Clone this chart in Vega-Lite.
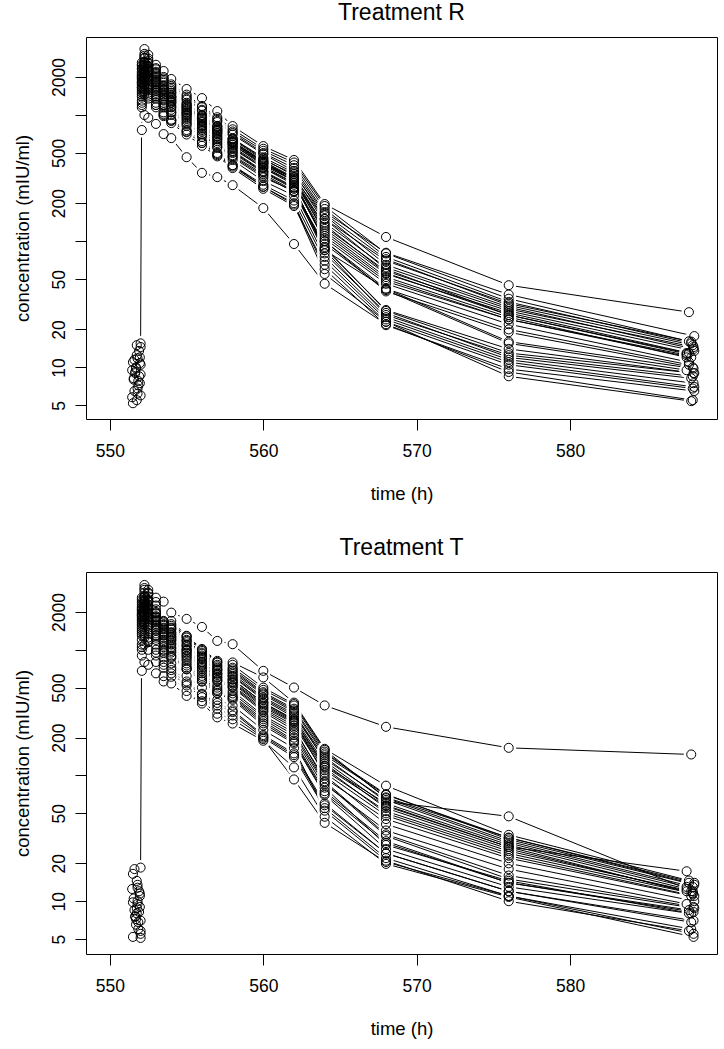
{
"$schema":"https://vega.github.io/schema/vega-lite/v6.json",
"background":"white",
"padding":{"left":12,"top":1,"right":2,"bottom":5},
"spacing":32,
"config":{
"font":"Liberation Sans",
"view":{"stroke":"black","strokeWidth":1},
"axis":{"domain":false,"grid":false,"tickColor":"black","tickSize":11,"tickWidth":1,"labelColor":"black","labelFontSize":17.5,"titleFontSize":18.5,"titleFontWeight":"normal","titleColor":"black","labelFont":"Liberation Sans","titleFont":"Liberation Sans","labelOverlap":false},
"axisX":{"labelPadding":12,"titlePadding":25,"labelFlush":false},
"axisY":{"labelAngle":-90,"labelAlign":"center","labelBaseline":"alphabetic","labelPadding":11,"titlePadding":18},
"title":{"fontSize":23,"fontWeight":"normal","color":"black","offset":12,"anchor":"middle","font":"Liberation Sans"}
},
"datasets":{
"R":[
{"s":1,"t":551.5,"c":5.2},{"s":1,"t":552.08,"c":760},{"s":1,"t":552.25,"c":1000},{"s":1,"t":552.5,"c":950},{"s":1,"t":553,"c":850},{"s":1,"t":553.5,"c":706},{"s":1,"t":554,"c":656},{"s":1,"t":555,"c":463},{"s":1,"t":556,"c":348},{"s":1,"t":557,"c":322},{"s":1,"t":558,"c":278},{"s":1,"t":560,"c":183},{"s":1,"t":562,"c":95},{"s":1,"t":564,"c":46},{"s":1,"t":568,"c":22},{"s":1,"t":576,"c":9.2},{"s":1,"t":588,"c":5.5},
{"s":2,"t":552,"c":15.5},{"s":2,"t":552.08,"c":2600},{"s":2,"t":552.25,"c":3330},{"s":2,"t":552.5,"c":3000},{"s":2,"t":553,"c":2500},{"s":2,"t":553.5,"c":2230},{"s":2,"t":554,"c":1928},{"s":2,"t":555,"c":1607},{"s":2,"t":556,"c":1362},{"s":2,"t":557,"c":1074},{"s":2,"t":558,"c":817},{"s":2,"t":560,"c":567},{"s":2,"t":562,"c":440},{"s":2,"t":564,"c":197},{"s":2,"t":568,"c":108},{"s":2,"t":576,"c":44.8},{"s":2,"t":587.75,"c":27.4},
{"s":3,"t":551.9,"c":8.5},{"s":3,"t":552.08,"c":2100},{"s":3,"t":552.25,"c":2600},{"s":3,"t":552.5,"c":2450},{"s":3,"t":553,"c":2100},{"s":3,"t":553.5,"c":1800},{"s":3,"t":554,"c":1600},{"s":3,"t":555,"c":1350},{"s":3,"t":556,"c":1100},{"s":3,"t":557,"c":900},{"s":3,"t":558,"c":720},{"s":3,"t":560,"c":500},{"s":3,"t":562,"c":380},{"s":3,"t":564,"c":170},{"s":3,"t":568,"c":81},{"s":3,"t":576,"c":37.8},{"s":3,"t":588.1,"c":17.7},
{"s":4,"t":552,"c":10.5},{"s":4,"t":552.08,"c":1800},{"s":4,"t":552.25,"c":2200},{"s":4,"t":552.5,"c":2000},{"s":4,"t":553,"c":1750},{"s":4,"t":553.5,"c":1500},{"s":4,"t":554,"c":1300},{"s":4,"t":555,"c":1050},{"s":4,"t":556,"c":880},{"s":4,"t":557,"c":720},{"s":4,"t":558,"c":580},{"s":4,"t":560,"c":410},{"s":4,"t":562,"c":320},{"s":4,"t":564,"c":150},{"s":4,"t":568,"c":70},{"s":4,"t":576,"c":32},{"s":4,"t":587.9,"c":16},
{"s":5,"t":551.8,"c":6.8},{"s":5,"t":552.08,"c":1500},{"s":5,"t":552.25,"c":1850},{"s":5,"t":552.5,"c":1700},{"s":5,"t":553,"c":1450},{"s":5,"t":553.5,"c":1200},{"s":5,"t":554,"c":1050},{"s":5,"t":555,"c":850},{"s":5,"t":556,"c":700},{"s":5,"t":557,"c":560},{"s":5,"t":558,"c":460},{"s":5,"t":560,"c":320},{"s":5,"t":562,"c":250},{"s":5,"t":564,"c":95},{"s":5,"t":568,"c":41},{"s":5,"t":576,"c":15.5},{"s":5,"t":587.6,"c":9.5},
{"s":6,"t":551.6,"c":11.5},{"s":6,"t":552.08,"c":2300},{"s":6,"t":552.25,"c":2800},{"s":6,"t":552.5,"c":2550},{"s":6,"t":553,"c":2150},{"s":6,"t":553.5,"c":1850},{"s":6,"t":554,"c":1550},{"s":6,"t":555,"c":1250},{"s":6,"t":556,"c":1000},{"s":6,"t":557,"c":820},{"s":6,"t":558,"c":650},{"s":6,"t":560,"c":450},{"s":6,"t":562,"c":330},{"s":6,"t":564,"c":140},{"s":6,"t":568,"c":62},{"s":6,"t":576,"c":29},{"s":6,"t":588.05,"c":14.5},
{"s":7,"t":551.95,"c":7.5},{"s":7,"t":552.08,"c":1650},{"s":7,"t":552.25,"c":2000},{"s":7,"t":552.5,"c":1900},{"s":7,"t":553,"c":1600},{"s":7,"t":553.5,"c":1350},{"s":7,"t":554,"c":1200},{"s":7,"t":555,"c":980},{"s":7,"t":556,"c":800},{"s":7,"t":557,"c":650},{"s":7,"t":558,"c":520},{"s":7,"t":560,"c":360},{"s":7,"t":562,"c":270},{"s":7,"t":564,"c":85},{"s":7,"t":568,"c":26},{"s":7,"t":576,"c":12.5},{"s":7,"t":588,"c":8.5},
{"s":8,"t":551.7,"c":9.8},{"s":8,"t":552.08,"c":2000},{"s":8,"t":552.25,"c":2450},{"s":8,"t":552.5,"c":2250},{"s":8,"t":553,"c":1900},{"s":8,"t":553.5,"c":1600},{"s":8,"t":554,"c":1400},{"s":8,"t":555,"c":1150},{"s":8,"t":556,"c":940},{"s":8,"t":557,"c":760},{"s":8,"t":558,"c":610},{"s":8,"t":560,"c":430},{"s":8,"t":562,"c":310},{"s":8,"t":564,"c":125},{"s":8,"t":568,"c":55},{"s":8,"t":576,"c":27},{"s":8,"t":587.75,"c":13},
{"s":9,"t":551.45,"c":5.8},{"s":9,"t":552.08,"c":1300},{"s":9,"t":552.25,"c":1600},{"s":9,"t":552.5,"c":1500},{"s":9,"t":553,"c":1250},{"s":9,"t":553.5,"c":1050},{"s":9,"t":554,"c":920},{"s":9,"t":555,"c":760},{"s":9,"t":556,"c":620},{"s":9,"t":557,"c":500},{"s":9,"t":558,"c":400},{"s":9,"t":560,"c":280},{"s":9,"t":562,"c":210},{"s":9,"t":564,"c":70},{"s":9,"t":568,"c":24},{"s":9,"t":576,"c":11},{"s":9,"t":588.1,"c":7},
{"s":10,"t":551.75,"c":12.5},{"s":10,"t":552.08,"c":2450},{"s":10,"t":552.25,"c":2950},{"s":10,"t":552.5,"c":2700},{"s":10,"t":553,"c":2300},{"s":10,"t":553.5,"c":1950},{"s":10,"t":554,"c":1700},{"s":10,"t":555,"c":1400},{"s":10,"t":556,"c":1150},{"s":10,"t":557,"c":930},{"s":10,"t":558,"c":740},{"s":10,"t":560,"c":520},{"s":10,"t":562,"c":400},{"s":10,"t":564,"c":180},{"s":10,"t":568,"c":75},{"s":10,"t":576,"c":33},{"s":10,"t":587.9,"c":15.5},
{"s":11,"t":551.55,"c":8},{"s":11,"t":552.08,"c":1750},{"s":11,"t":552.25,"c":2150},{"s":11,"t":552.5,"c":1950},{"s":11,"t":553,"c":1650},{"s":11,"t":553.5,"c":1400},{"s":11,"t":554,"c":1250},{"s":11,"t":555,"c":1000},{"s":11,"t":556,"c":820},{"s":11,"t":557,"c":670},{"s":11,"t":558,"c":540},{"s":11,"t":560,"c":380},{"s":11,"t":562,"c":290},{"s":11,"t":564,"c":110},{"s":11,"t":568,"c":48},{"s":11,"t":576,"c":24},{"s":11,"t":587.6,"c":12.5},
{"s":12,"t":552,"c":14.5},{"s":12,"t":552.08,"c":2200},{"s":12,"t":552.25,"c":2650},{"s":12,"t":552.5,"c":2400},{"s":12,"t":553,"c":2050},{"s":12,"t":553.5,"c":1700},{"s":12,"t":554,"c":1500},{"s":12,"t":555,"c":1200},{"s":12,"t":556,"c":980},{"s":12,"t":557,"c":800},{"s":12,"t":558,"c":640},{"s":12,"t":560,"c":440},{"s":12,"t":562,"c":340},{"s":12,"t":564,"c":160},{"s":12,"t":568,"c":65},{"s":12,"t":576,"c":30},{"s":12,"t":588.05,"c":14},
{"s":13,"t":551.8,"c":6.2},{"s":13,"t":552.08,"c":1150},{"s":13,"t":552.25,"c":1450},{"s":13,"t":552.5,"c":1350},{"s":13,"t":553,"c":1150},{"s":13,"t":553.5,"c":980},{"s":13,"t":554,"c":863},{"s":13,"t":555,"c":700},{"s":13,"t":556,"c":570},{"s":13,"t":557,"c":470},{"s":13,"t":558,"c":380},{"s":13,"t":560,"c":260},{"s":13,"t":562,"c":190},{"s":13,"t":564,"c":65},{"s":13,"t":568,"c":23},{"s":13,"t":576,"c":10.5},{"s":13,"t":588,"c":6.8},
{"s":14,"t":551.65,"c":9.2},{"s":14,"t":552.08,"c":1900},{"s":14,"t":552.25,"c":2300},{"s":14,"t":552.5,"c":2150},{"s":14,"t":553,"c":1800},{"s":14,"t":553.5,"c":1550},{"s":14,"t":554,"c":1350},{"s":14,"t":555,"c":1100},{"s":14,"t":556,"c":900},{"s":14,"t":557,"c":740},{"s":14,"t":558,"c":600},{"s":14,"t":560,"c":410},{"s":14,"t":562,"c":300},{"s":14,"t":564,"c":100},{"s":14,"t":568,"c":42},{"s":14,"t":576,"c":20},{"s":14,"t":587.75,"c":10.5},
{"s":15,"t":551.95,"c":10.8},{"s":15,"t":552.08,"c":2050},{"s":15,"t":552.25,"c":2500},{"s":15,"t":552.5,"c":2300},{"s":15,"t":553,"c":1950},{"s":15,"t":553.5,"c":1650},{"s":15,"t":554,"c":1450},{"s":15,"t":555,"c":1180},{"s":15,"t":556,"c":960},{"s":15,"t":557,"c":780},{"s":15,"t":558,"c":620},{"s":15,"t":560,"c":430},{"s":15,"t":562,"c":320},{"s":15,"t":564,"c":130},{"s":15,"t":568,"c":58},{"s":15,"t":576,"c":28},{"s":15,"t":588.1,"c":13.5},
{"s":16,"t":551.85,"c":7.2},{"s":16,"t":552.08,"c":1600},{"s":16,"t":552.25,"c":1950},{"s":16,"t":552.5,"c":1800},{"s":16,"t":553,"c":1550},{"s":16,"t":553.5,"c":1300},{"s":16,"t":554,"c":1150},{"s":16,"t":555,"c":930},{"s":16,"t":556,"c":760},{"s":16,"t":557,"c":620},{"s":16,"t":558,"c":500},{"s":16,"t":560,"c":350},{"s":16,"t":562,"c":260},{"s":16,"t":564,"c":80},{"s":16,"t":568,"c":27},{"s":16,"t":576,"c":12},{"s":16,"t":587.9,"c":8.2},
{"s":17,"t":551.5,"c":11},{"s":17,"t":552.08,"c":1850},{"s":17,"t":552.25,"c":2250},{"s":17,"t":552.5,"c":2050},{"s":17,"t":553,"c":1750},{"s":17,"t":553.5,"c":1500},{"s":17,"t":554,"c":1320},{"s":17,"t":555,"c":1080},{"s":17,"t":556,"c":880},{"s":17,"t":557,"c":720},{"s":17,"t":558,"c":580},{"s":17,"t":560,"c":400},{"s":17,"t":562,"c":300},{"s":17,"t":564,"c":120},{"s":17,"t":568,"c":52},{"s":17,"t":576,"c":25},{"s":17,"t":587.6,"c":12},
{"s":18,"t":551.75,"c":5.5},{"s":18,"t":552.08,"c":1400},{"s":18,"t":552.25,"c":1700},{"s":18,"t":552.5,"c":1600},{"s":18,"t":553,"c":1350},{"s":18,"t":553.5,"c":1150},{"s":18,"t":554,"c":1000},{"s":18,"t":555,"c":820},{"s":18,"t":556,"c":670},{"s":18,"t":557,"c":550},{"s":18,"t":558,"c":440},{"s":18,"t":560,"c":300},{"s":18,"t":562,"c":230},{"s":18,"t":564,"c":75},{"s":18,"t":568,"c":25},{"s":18,"t":576,"c":11.5},{"s":18,"t":588.05,"c":7.5},
{"s":19,"t":551.9,"c":13.5},{"s":19,"t":552.08,"c":2350},{"s":19,"t":552.25,"c":2850},{"s":19,"t":552.5,"c":2600},{"s":19,"t":553,"c":2200},{"s":19,"t":553.5,"c":1900},{"s":19,"t":554,"c":1650},{"s":19,"t":555,"c":1320},{"s":19,"t":556,"c":1080},{"s":19,"t":557,"c":880},{"s":19,"t":558,"c":700},{"s":19,"t":560,"c":490},{"s":19,"t":562,"c":360},{"s":19,"t":564,"c":165},{"s":19,"t":568,"c":72},{"s":19,"t":576,"c":31},{"s":19,"t":588,"c":15},
{"s":20,"t":552,"c":8.8},{"s":20,"t":552.08,"c":1700},{"s":20,"t":552.25,"c":2050},{"s":20,"t":552.5,"c":1900},{"s":20,"t":553,"c":1650},{"s":20,"t":553.5,"c":1420},{"s":20,"t":554,"c":1250},{"s":20,"t":555,"c":1020},{"s":20,"t":556,"c":830},{"s":20,"t":557,"c":680},{"s":20,"t":558,"c":550},{"s":20,"t":560,"c":380},{"s":20,"t":562,"c":280},{"s":20,"t":564,"c":105},{"s":20,"t":568,"c":46},{"s":20,"t":576,"c":22},{"s":20,"t":587.75,"c":11},
{"s":21,"t":551.6,"c":6.5},{"s":21,"t":552.08,"c":1250},{"s":21,"t":552.25,"c":1500},{"s":21,"t":552.5,"c":1400},{"s":21,"t":553,"c":1200},{"s":21,"t":553.5,"c":1000},{"s":21,"t":554,"c":900},{"s":21,"t":555,"c":730},{"s":21,"t":556,"c":600},{"s":21,"t":557,"c":480},{"s":21,"t":558,"c":390},{"s":21,"t":560,"c":270},{"s":21,"t":562,"c":200},{"s":21,"t":564,"c":60},{"s":21,"t":568,"c":21.6},{"s":21,"t":576,"c":9.7},{"s":21,"t":588.1,"c":6.5},
{"s":22,"t":551.7,"c":10},{"s":22,"t":552.08,"c":1950},{"s":22,"t":552.25,"c":2400},{"s":22,"t":552.5,"c":2200},{"s":22,"t":553,"c":1850},{"s":22,"t":553.5,"c":1580},{"s":22,"t":554,"c":1380},{"s":22,"t":555,"c":1120},{"s":22,"t":556,"c":920},{"s":22,"t":557,"c":750},{"s":22,"t":558,"c":600},{"s":22,"t":560,"c":420},{"s":22,"t":562,"c":310},{"s":22,"t":564,"c":115},{"s":22,"t":568,"c":50},{"s":22,"t":576,"c":24},{"s":22,"t":587.9,"c":12},
{"s":23,"t":551.95,"c":12},{"s":23,"t":552.08,"c":2150},{"s":23,"t":552.25,"c":2600},{"s":23,"t":552.5,"c":2400},{"s":23,"t":553,"c":2000},{"s":23,"t":553.5,"c":1720},{"s":23,"t":554,"c":1500},{"s":23,"t":555,"c":1220},{"s":23,"t":556,"c":1000},{"s":23,"t":557,"c":810},{"s":23,"t":558,"c":650},{"s":23,"t":560,"c":460},{"s":23,"t":562,"c":350},{"s":23,"t":564,"c":150},{"s":23,"t":568,"c":60},{"s":23,"t":576,"c":26},{"s":23,"t":587.6,"c":13},
{"s":24,"t":551.85,"c":7.8},{"s":24,"t":552.08,"c":1550},{"s":24,"t":552.25,"c":1900},{"s":24,"t":552.5,"c":1750},{"s":24,"t":553,"c":1500},{"s":24,"t":553.5,"c":1250},{"s":24,"t":554,"c":1100},{"s":24,"t":555,"c":900},{"s":24,"t":556,"c":740},{"s":24,"t":557,"c":600},{"s":24,"t":558,"c":480},{"s":24,"t":560,"c":340},{"s":24,"t":562,"c":250},{"s":24,"t":564,"c":90},{"s":24,"t":568,"c":28},{"s":24,"t":576,"c":13},{"s":24,"t":588.05,"c":9},
{"s":25,"t":551.45,"c":9.5},{"s":25,"t":552.08,"c":1800},{"s":25,"t":552.25,"c":2150},{"s":25,"t":552.5,"c":2000},{"s":25,"t":553,"c":1700},{"s":25,"t":553.5,"c":1450},{"s":25,"t":554,"c":1280},{"s":25,"t":555,"c":1040},{"s":25,"t":556,"c":850},{"s":25,"t":557,"c":700},{"s":25,"t":558,"c":560},{"s":25,"t":560,"c":390},{"s":25,"t":562,"c":290},{"s":25,"t":564,"c":100},{"s":25,"t":568,"c":40},{"s":25,"t":576,"c":19},{"s":25,"t":588,"c":10},
{"s":26,"t":551.75,"c":15},{"s":26,"t":552.08,"c":2500},{"s":26,"t":552.25,"c":3050},{"s":26,"t":552.5,"c":2800},{"s":26,"t":553,"c":2350},{"s":26,"t":553.5,"c":2000},{"s":26,"t":554,"c":1750},{"s":26,"t":555,"c":1450},{"s":26,"t":556,"c":1180},{"s":26,"t":557,"c":960},{"s":26,"t":558,"c":770},{"s":26,"t":560,"c":540},{"s":26,"t":562,"c":420},{"s":26,"t":564,"c":190},{"s":26,"t":568,"c":80},{"s":26,"t":576,"c":35},{"s":26,"t":587.75,"c":16.1},
{"s":27,"t":551.55,"c":8.2},{"s":27,"t":552.08,"c":1650},{"s":27,"t":552.25,"c":2000},{"s":27,"t":552.5,"c":1850},{"s":27,"t":553,"c":1550},{"s":27,"t":553.5,"c":1320},{"s":27,"t":554,"c":1160},{"s":27,"t":555,"c":950},{"s":27,"t":556,"c":780},{"s":27,"t":557,"c":640},{"s":27,"t":558,"c":510},{"s":27,"t":560,"c":355},{"s":27,"t":562,"c":265},{"s":27,"t":564,"c":88},{"s":27,"t":568,"c":28.5},{"s":27,"t":576,"c":14},{"s":27,"t":588.1,"c":9},
{"s":28,"t":552,"c":6},{"s":28,"t":552.08,"c":1200},{"s":28,"t":552.25,"c":1550},{"s":28,"t":552.5,"c":1450},{"s":28,"t":553,"c":1200},{"s":28,"t":553.5,"c":1020},{"s":28,"t":554,"c":900},{"s":28,"t":555,"c":740},{"s":28,"t":556,"c":600},{"s":28,"t":557,"c":490},{"s":28,"t":558,"c":400},{"s":28,"t":560,"c":270},{"s":28,"t":562,"c":195},{"s":28,"t":564,"c":55},{"s":28,"t":568,"c":23},{"s":28,"t":576,"c":8.5},{"s":28,"t":587.9,"c":5.4},
{"s":29,"t":551.8,"c":11.8},{"s":29,"t":552.08,"c":2000},{"s":29,"t":552.25,"c":2350},{"s":29,"t":552.5,"c":2200},{"s":29,"t":553,"c":1850},{"s":29,"t":553.5,"c":1600},{"s":29,"t":554,"c":1400},{"s":29,"t":555,"c":1150},{"s":29,"t":556,"c":940},{"s":29,"t":557,"c":770},{"s":29,"t":558,"c":620},{"s":29,"t":560,"c":420},{"s":29,"t":562,"c":300},{"s":29,"t":564,"c":135},{"s":29,"t":568,"c":56},{"s":29,"t":576,"c":26},{"s":29,"t":587.6,"c":12.8},
{"s":30,"t":551.65,"c":9},{"s":30,"t":552.08,"c":1450},{"s":30,"t":552.25,"c":1750},{"s":30,"t":552.5,"c":1650},{"s":30,"t":553,"c":1400},{"s":30,"t":553.5,"c":1200},{"s":30,"t":554,"c":1050},{"s":30,"t":555,"c":870},{"s":30,"t":556,"c":710},{"s":30,"t":557,"c":580},{"s":30,"t":558,"c":470},{"s":30,"t":560,"c":330},{"s":30,"t":562,"c":245},{"s":30,"t":564,"c":85},{"s":30,"t":568,"c":42},{"s":30,"t":576,"c":16},{"s":30,"t":588.05,"c":9.8}
],
"T":[
{"s":1,"t":551.6,"c":8.5},{"s":1,"t":552.08,"c":2400},{"s":1,"t":552.25,"c":3000},{"s":1,"t":552.5,"c":2800},{"s":1,"t":553,"c":2600},{"s":1,"t":553.5,"c":2417},{"s":1,"t":554,"c":1976},{"s":1,"t":555,"c":1762},{"s":1,"t":556,"c":1521},{"s":1,"t":557,"c":1177},{"s":1,"t":558,"c":1109},{"s":1,"t":560,"c":680},{"s":1,"t":562,"c":501},{"s":1,"t":564,"c":361},{"s":1,"t":568,"c":244},{"s":1,"t":576,"c":166},{"s":1,"t":587.9,"c":147},
{"s":2,"t":552,"c":18.5},{"s":2,"t":552.08,"c":2600},{"s":2,"t":552.25,"c":3280},{"s":2,"t":552.5,"c":3000},{"s":2,"t":553,"c":2400},{"s":2,"t":553.5,"c":1698},{"s":2,"t":554,"c":1698},{"s":2,"t":555,"c":1293},{"s":2,"t":556,"c":1016},{"s":2,"t":557,"c":817},{"s":2,"t":558,"c":793},{"s":2,"t":560,"c":603},{"s":2,"t":562,"c":380},{"s":2,"t":564,"c":163},{"s":2,"t":568,"c":83},{"s":2,"t":576,"c":33.7},{"s":2,"t":587.75,"c":14.6},
{"s":3,"t":551.9,"c":12},{"s":3,"t":552.08,"c":2200},{"s":3,"t":552.25,"c":2700},{"s":3,"t":552.5,"c":2500},{"s":3,"t":553,"c":2000},{"s":3,"t":553.5,"c":1600},{"s":3,"t":554,"c":1500},{"s":3,"t":555,"c":1200},{"s":3,"t":556,"c":950},{"s":3,"t":557,"c":760},{"s":3,"t":558,"c":700},{"s":3,"t":560,"c":460},{"s":3,"t":562,"c":340},{"s":3,"t":564,"c":150},{"s":3,"t":568,"c":71},{"s":3,"t":576,"c":31},{"s":3,"t":588.1,"c":13.5},
{"s":4,"t":552,"c":7},{"s":4,"t":552.08,"c":1600},{"s":4,"t":552.25,"c":1950},{"s":4,"t":552.5,"c":1800},{"s":4,"t":553,"c":1450},{"s":4,"t":553.5,"c":1150},{"s":4,"t":554,"c":1050},{"s":4,"t":555,"c":850},{"s":4,"t":556,"c":680},{"s":4,"t":557,"c":560},{"s":4,"t":558,"c":500},{"s":4,"t":560,"c":320},{"s":4,"t":562,"c":230},{"s":4,"t":564,"c":95},{"s":4,"t":568,"c":45},{"s":4,"t":576,"c":22},{"s":4,"t":587.9,"c":11},
{"s":5,"t":551.8,"c":9.5},{"s":5,"t":552.08,"c":1900},{"s":5,"t":552.25,"c":2350},{"s":5,"t":552.5,"c":2150},{"s":5,"t":553,"c":1750},{"s":5,"t":553.5,"c":1400},{"s":5,"t":554,"c":1280},{"s":5,"t":555,"c":1000},{"s":5,"t":556,"c":800},{"s":5,"t":557,"c":650},{"s":5,"t":558,"c":580},{"s":5,"t":560,"c":380},{"s":5,"t":562,"c":280},{"s":5,"t":564,"c":120},{"s":5,"t":568,"c":60},{"s":5,"t":576,"c":28},{"s":5,"t":587.6,"c":12.5},
{"s":6,"t":551.5,"c":5.2},{"s":6,"t":552.08,"c":1100},{"s":6,"t":552.25,"c":1350},{"s":6,"t":552.5,"c":1250},{"s":6,"t":553,"c":1000},{"s":6,"t":553.5,"c":800},{"s":6,"t":554,"c":720},{"s":6,"t":555,"c":560},{"s":6,"t":556,"c":447},{"s":6,"t":557,"c":378},{"s":6,"t":558,"c":330},{"s":6,"t":560,"c":210},{"s":6,"t":562,"c":150},{"s":6,"t":564,"c":60},{"s":6,"t":568,"c":24},{"s":6,"t":576,"c":12},{"s":6,"t":588.05,"c":7},
{"s":7,"t":551.95,"c":11},{"s":7,"t":552.08,"c":2050},{"s":7,"t":552.25,"c":2500},{"s":7,"t":552.5,"c":2300},{"s":7,"t":553,"c":1850},{"s":7,"t":553.5,"c":1500},{"s":7,"t":554,"c":1380},{"s":7,"t":555,"c":1100},{"s":7,"t":556,"c":880},{"s":7,"t":557,"c":700},{"s":7,"t":558,"c":640},{"s":7,"t":560,"c":420},{"s":7,"t":562,"c":310},{"s":7,"t":564,"c":140},{"s":7,"t":568,"c":62},{"s":7,"t":576,"c":47.3},{"s":7,"t":588,"c":12},
{"s":8,"t":551.7,"c":6.5},{"s":8,"t":552.08,"c":1300},{"s":8,"t":552.25,"c":1600},{"s":8,"t":552.5,"c":1500},{"s":8,"t":553,"c":1200},{"s":8,"t":553.5,"c":950},{"s":8,"t":554,"c":860},{"s":8,"t":555,"c":700},{"s":8,"t":556,"c":560},{"s":8,"t":557,"c":450},{"s":8,"t":558,"c":400},{"s":8,"t":560,"c":250},{"s":8,"t":562,"c":180},{"s":8,"t":564,"c":70},{"s":8,"t":568,"c":26},{"s":8,"t":576,"c":13},{"s":8,"t":587.75,"c":8},
{"s":9,"t":551.5,"c":16.5},{"s":9,"t":552.08,"c":2300},{"s":9,"t":552.25,"c":2850},{"s":9,"t":552.5,"c":2650},{"s":9,"t":553,"c":2100},{"s":9,"t":553.5,"c":1650},{"s":9,"t":554,"c":1550},{"s":9,"t":555,"c":1250},{"s":9,"t":556,"c":980},{"s":9,"t":557,"c":790},{"s":9,"t":558,"c":720},{"s":9,"t":560,"c":480},{"s":9,"t":562,"c":360},{"s":9,"t":564,"c":155},{"s":9,"t":568,"c":67},{"s":9,"t":576,"c":32},{"s":9,"t":588.1,"c":14},
{"s":10,"t":551.75,"c":8},{"s":10,"t":552.08,"c":1750},{"s":10,"t":552.25,"c":2150},{"s":10,"t":552.5,"c":1950},{"s":10,"t":553,"c":1600},{"s":10,"t":553.5,"c":1300},{"s":10,"t":554,"c":1180},{"s":10,"t":555,"c":930},{"s":10,"t":556,"c":740},{"s":10,"t":557,"c":600},{"s":10,"t":558,"c":540},{"s":10,"t":560,"c":350},{"s":10,"t":562,"c":260},{"s":10,"t":564,"c":110},{"s":10,"t":568,"c":52},{"s":10,"t":576,"c":25},{"s":10,"t":587.9,"c":12},
{"s":11,"t":551.55,"c":10.5},{"s":11,"t":552.08,"c":1500},{"s":11,"t":552.25,"c":1850},{"s":11,"t":552.5,"c":1700},{"s":11,"t":553,"c":1350},{"s":11,"t":553.5,"c":1080},{"s":11,"t":554,"c":980},{"s":11,"t":555,"c":780},{"s":11,"t":556,"c":620},{"s":11,"t":557,"c":500},{"s":11,"t":558,"c":450},{"s":11,"t":560,"c":290},{"s":11,"t":562,"c":210},{"s":11,"t":564,"c":85},{"s":11,"t":568,"c":36.5},{"s":11,"t":576,"c":18},{"s":11,"t":587.6,"c":9.5},
{"s":12,"t":552,"c":5.8},{"s":12,"t":552.08,"c":900},{"s":12,"t":552.25,"c":1100},{"s":12,"t":552.5,"c":1000},{"s":12,"t":553,"c":800},{"s":12,"t":553.5,"c":617},{"s":12,"t":554,"c":610},{"s":12,"t":555,"c":470},{"s":12,"t":556,"c":374},{"s":12,"t":557,"c":290},{"s":12,"t":558,"c":259},{"s":12,"t":560,"c":189},{"s":12,"t":562,"c":116},{"s":12,"t":564,"c":47},{"s":12,"t":568,"c":19.8},{"s":12,"t":576,"c":10.8},{"s":12,"t":588.05,"c":5.2},
{"s":13,"t":551.8,"c":13.5},{"s":13,"t":552.08,"c":2100},{"s":13,"t":552.25,"c":2600},{"s":13,"t":552.5,"c":2400},{"s":13,"t":553,"c":1950},{"s":13,"t":553.5,"c":1550},{"s":13,"t":554,"c":1450},{"s":13,"t":555,"c":1150},{"s":13,"t":556,"c":900},{"s":13,"t":557,"c":720},{"s":13,"t":558,"c":660},{"s":13,"t":560,"c":440},{"s":13,"t":562,"c":320},{"s":13,"t":564,"c":130},{"s":13,"t":568,"c":58},{"s":13,"t":576,"c":27},{"s":13,"t":588,"c":11.5},
{"s":14,"t":551.65,"c":7.5},{"s":14,"t":552.08,"c":1400},{"s":14,"t":552.25,"c":1700},{"s":14,"t":552.5,"c":1600},{"s":14,"t":553,"c":1300},{"s":14,"t":553.5,"c":1000},{"s":14,"t":554,"c":900},{"s":14,"t":555,"c":720},{"s":14,"t":556,"c":580},{"s":14,"t":557,"c":470},{"s":14,"t":558,"c":420},{"s":14,"t":560,"c":270},{"s":14,"t":562,"c":190},{"s":14,"t":564,"c":75},{"s":14,"t":568,"c":30},{"s":14,"t":576,"c":14},{"s":14,"t":587.75,"c":8.5},
{"s":15,"t":551.95,"c":9},{"s":15,"t":552.08,"c":1850},{"s":15,"t":552.25,"c":2250},{"s":15,"t":552.5,"c":2050},{"s":15,"t":553,"c":1700},{"s":15,"t":553.5,"c":1350},{"s":15,"t":554,"c":1230},{"s":15,"t":555,"c":980},{"s":15,"t":556,"c":780},{"s":15,"t":557,"c":630},{"s":15,"t":558,"c":560},{"s":15,"t":560,"c":370},{"s":15,"t":562,"c":270},{"s":15,"t":564,"c":100},{"s":15,"t":568,"c":41},{"s":15,"t":576,"c":20},{"s":15,"t":588.1,"c":10},
{"s":16,"t":551.85,"c":6},{"s":16,"t":552.08,"c":1000},{"s":16,"t":552.25,"c":1250},{"s":16,"t":552.5,"c":1150},{"s":16,"t":553,"c":900},{"s":16,"t":553.5,"c":720},{"s":16,"t":554,"c":650},{"s":16,"t":555,"c":520},{"s":16,"t":556,"c":420},{"s":16,"t":557,"c":340},{"s":16,"t":558,"c":300},{"s":16,"t":560,"c":200},{"s":16,"t":562,"c":140},{"s":16,"t":564,"c":55},{"s":16,"t":568,"c":22},{"s":16,"t":576,"c":11},{"s":16,"t":587.9,"c":6},
{"s":17,"t":551.45,"c":12.5},{"s":17,"t":552.08,"c":1950},{"s":17,"t":552.25,"c":2400},{"s":17,"t":552.5,"c":2200},{"s":17,"t":553,"c":1800},{"s":17,"t":553.5,"c":1450},{"s":17,"t":554,"c":1320},{"s":17,"t":555,"c":1050},{"s":17,"t":556,"c":840},{"s":17,"t":557,"c":680},{"s":17,"t":558,"c":610},{"s":17,"t":560,"c":400},{"s":17,"t":562,"c":290},{"s":17,"t":564,"c":125},{"s":17,"t":568,"c":55},{"s":17,"t":576,"c":26},{"s":17,"t":587.6,"c":12},
{"s":18,"t":551.75,"c":8.8},{"s":18,"t":552.08,"c":1650},{"s":18,"t":552.25,"c":2000},{"s":18,"t":552.5,"c":1850},{"s":18,"t":553,"c":1500},{"s":18,"t":553.5,"c":1200},{"s":18,"t":554,"c":1100},{"s":18,"t":555,"c":880},{"s":18,"t":556,"c":700},{"s":18,"t":557,"c":570},{"s":18,"t":558,"c":510},{"s":18,"t":560,"c":330},{"s":18,"t":562,"c":240},{"s":18,"t":564,"c":90},{"s":18,"t":568,"c":34},{"s":18,"t":576,"c":16},{"s":18,"t":588.05,"c":9},
{"s":19,"t":551.6,"c":18},{"s":19,"t":552.08,"c":2500},{"s":19,"t":552.25,"c":3100},{"s":19,"t":552.5,"c":2850},{"s":19,"t":553,"c":2250},{"s":19,"t":553.5,"c":1680},{"s":19,"t":554,"c":1600},{"s":19,"t":555,"c":1280},{"s":19,"t":556,"c":1000},{"s":19,"t":557,"c":800},{"s":19,"t":558,"c":760},{"s":19,"t":560,"c":500},{"s":19,"t":562,"c":370},{"s":19,"t":564,"c":160},{"s":19,"t":568,"c":66},{"s":19,"t":576,"c":30},{"s":19,"t":588,"c":13},
{"s":20,"t":552,"c":5.5},{"s":20,"t":552.08,"c":1200},{"s":20,"t":552.25,"c":1450},{"s":20,"t":552.5,"c":1350},{"s":20,"t":553,"c":1100},{"s":20,"t":553.5,"c":870},{"s":20,"t":554,"c":780},{"s":20,"t":555,"c":620},{"s":20,"t":556,"c":500},{"s":20,"t":557,"c":400},{"s":20,"t":558,"c":360},{"s":20,"t":560,"c":230},{"s":20,"t":562,"c":165},{"s":20,"t":564,"c":52.5},{"s":20,"t":568,"c":21},{"s":20,"t":576,"c":10},{"s":20,"t":587.75,"c":5.8},
{"s":21,"t":551.8,"c":10},{"s":21,"t":552.08,"c":1700},{"s":21,"t":552.25,"c":2100},{"s":21,"t":552.5,"c":1900},{"s":21,"t":553,"c":1550},{"s":21,"t":553.5,"c":1250},{"s":21,"t":554,"c":1130},{"s":21,"t":555,"c":900},{"s":21,"t":556,"c":720},{"s":21,"t":557,"c":580},{"s":21,"t":558,"c":520},{"s":21,"t":560,"c":340},{"s":21,"t":562,"c":250},{"s":21,"t":564,"c":105},{"s":21,"t":568,"c":48},{"s":21,"t":576,"c":23},{"s":21,"t":588.1,"c":11},
{"s":22,"t":551.7,"c":7.2},{"s":22,"t":552.08,"c":1450},{"s":22,"t":552.25,"c":1750},{"s":22,"t":552.5,"c":1650},{"s":22,"t":553,"c":1300},{"s":22,"t":553.5,"c":1050},{"s":22,"t":554,"c":950},{"s":22,"t":555,"c":750},{"s":22,"t":556,"c":600},{"s":22,"t":557,"c":480},{"s":22,"t":558,"c":430},{"s":22,"t":560,"c":280},{"s":22,"t":562,"c":200},{"s":22,"t":564,"c":80},{"s":22,"t":568,"c":28},{"s":22,"t":576,"c":14.5},{"s":22,"t":587.9,"c":8},
{"s":23,"t":551.95,"c":11.5},{"s":23,"t":552.08,"c":2000},{"s":23,"t":552.25,"c":2450},{"s":23,"t":552.5,"c":2250},{"s":23,"t":553,"c":1820},{"s":23,"t":553.5,"c":1480},{"s":23,"t":554,"c":1350},{"s":23,"t":555,"c":1080},{"s":23,"t":556,"c":860},{"s":23,"t":557,"c":690},{"s":23,"t":558,"c":620},{"s":23,"t":560,"c":410},{"s":23,"t":562,"c":300},{"s":23,"t":564,"c":135},{"s":23,"t":568,"c":64},{"s":23,"t":576,"c":29},{"s":23,"t":587.6,"c":13},
{"s":24,"t":551.85,"c":6.8},{"s":24,"t":552.08,"c":680},{"s":24,"t":552.25,"c":800},{"s":24,"t":552.5,"c":760},{"s":24,"t":553,"c":650},{"s":24,"t":553.5,"c":560},{"s":24,"t":554,"c":540},{"s":24,"t":555,"c":430},{"s":24,"t":556,"c":390},{"s":24,"t":557,"c":310},{"s":24,"t":558,"c":280},{"s":24,"t":560,"c":195},{"s":24,"t":562,"c":93},{"s":24,"t":564,"c":42},{"s":24,"t":568,"c":20.5},{"s":24,"t":576,"c":11},{"s":24,"t":588.05,"c":5.5},
{"s":25,"t":551.5,"c":9.8},{"s":25,"t":552.08,"c":1800},{"s":25,"t":552.25,"c":2200},{"s":25,"t":552.5,"c":2000},{"s":25,"t":553,"c":1650},{"s":25,"t":553.5,"c":1320},{"s":25,"t":554,"c":1200},{"s":25,"t":555,"c":950},{"s":25,"t":556,"c":760},{"s":25,"t":557,"c":610},{"s":25,"t":558,"c":550},{"s":25,"t":560,"c":360},{"s":25,"t":562,"c":265},{"s":25,"t":564,"c":115},{"s":25,"t":568,"c":50},{"s":25,"t":576,"c":24},{"s":25,"t":588,"c":11.5},
{"s":26,"t":551.75,"c":14.5},{"s":26,"t":552.08,"c":2150},{"s":26,"t":552.25,"c":2650},{"s":26,"t":552.5,"c":2450},{"s":26,"t":553,"c":1950},{"s":26,"t":553.5,"c":1580},{"s":26,"t":554,"c":1480},{"s":26,"t":555,"c":1180},{"s":26,"t":556,"c":930},{"s":26,"t":557,"c":740},{"s":26,"t":558,"c":680},{"s":26,"t":560,"c":450},{"s":26,"t":562,"c":330},{"s":26,"t":564,"c":145},{"s":26,"t":568,"c":70},{"s":26,"t":576,"c":32},{"s":26,"t":587.75,"c":14},
{"s":27,"t":551.9,"c":8.2},{"s":27,"t":552.08,"c":1550},{"s":27,"t":552.25,"c":1900},{"s":27,"t":552.5,"c":1750},{"s":27,"t":553,"c":1420},{"s":27,"t":553.5,"c":1120},{"s":27,"t":554,"c":1020},{"s":27,"t":555,"c":820},{"s":27,"t":556,"c":650},{"s":27,"t":557,"c":520},{"s":27,"t":558,"c":470},{"s":27,"t":560,"c":300},{"s":27,"t":562,"c":220},{"s":27,"t":564,"c":88},{"s":27,"t":568,"c":33},{"s":27,"t":576,"c":15},{"s":27,"t":588.1,"c":8.8},
{"s":28,"t":552,"c":5.1},{"s":28,"t":552.08,"c":1050},{"s":28,"t":552.25,"c":1300},{"s":28,"t":552.5,"c":1200},{"s":28,"t":553,"c":950},{"s":28,"t":553.5,"c":760},{"s":28,"t":554,"c":690},{"s":28,"t":555,"c":540},{"s":28,"t":556,"c":440},{"s":28,"t":557,"c":360},{"s":28,"t":558,"c":320},{"s":28,"t":560,"c":205},{"s":28,"t":562,"c":145},{"s":28,"t":564,"c":58},{"s":28,"t":568,"c":24},{"s":28,"t":576,"c":12},{"s":28,"t":587.9,"c":6.8},
{"s":29,"t":551.8,"c":12.8},{"s":29,"t":552.08,"c":1880},{"s":29,"t":552.25,"c":2300},{"s":29,"t":552.5,"c":2100},{"s":29,"t":553,"c":1720},{"s":29,"t":553.5,"c":1380},{"s":29,"t":554,"c":1260},{"s":29,"t":555,"c":1000},{"s":29,"t":556,"c":800},{"s":29,"t":557,"c":645},{"s":29,"t":558,"c":580},{"s":29,"t":560,"c":380},{"s":29,"t":562,"c":275},{"s":29,"t":564,"c":118},{"s":29,"t":568,"c":57},{"s":29,"t":576,"c":27},{"s":29,"t":587.6,"c":17.3},
{"s":30,"t":551.65,"c":7.6},{"s":30,"t":552.08,"c":1350},{"s":30,"t":552.25,"c":1650},{"s":30,"t":552.5,"c":1550},{"s":30,"t":553,"c":1250},{"s":30,"t":553.5,"c":980},{"s":30,"t":554,"c":880},{"s":30,"t":555,"c":700},{"s":30,"t":556,"c":560},{"s":30,"t":557,"c":455},{"s":30,"t":558,"c":410},{"s":30,"t":560,"c":260},{"s":30,"t":562,"c":185},{"s":30,"t":564,"c":72},{"s":30,"t":568,"c":29},{"s":30,"t":576,"c":14},{"s":30,"t":588.05,"c":8.2}
]
},
"vconcat":[
{
"title":"Treatment R",
"width":631,"height":382,
"data":{"name":"R"},
"encoding":{
"x":{"field":"t","type":"quantitative","scale":{"domain":[548.44,589.58],"nice":false,"zero":false},"axis":{"values":[550,560,570,580],"title":"time (h)"}},
"y":{"field":"c","type":"quantitative","scale":{"type":"log","domain":[3.9,4150],"nice":false},"axis":{"values":[5,10,20,50,100,200,500,1000,2000],"labelExpr":"datum.value == 100 || datum.value == 1000 ? '' : format(datum.value, 'd')","title":"concentration (mIU/ml)"}}
},
"layer":[
{"transform":[{"filter":"datum.t > 552.01 || datum.s == 2"}],"mark":{"type":"line","color":"black","strokeWidth":1,"clip":true},"encoding":{"detail":{"field":"s","type":"nominal"}}},
{"mark":{"type":"point","shape":"circle","filled":true,"color":"white","opacity":1,"size":225,"strokeWidth":0}},
{"mark":{"type":"point","shape":"circle","filled":false,"color":"black","opacity":1,"size":82,"strokeWidth":1}}
]
},
{
"title":"Treatment T",
"width":631,"height":382,
"data":{"name":"T"},
"encoding":{
"x":{"field":"t","type":"quantitative","scale":{"domain":[548.44,589.58],"nice":false,"zero":false},"axis":{"values":[550,560,570,580],"title":"time (h)"}},
"y":{"field":"c","type":"quantitative","scale":{"type":"log","domain":[3.8,4160],"nice":false},"axis":{"values":[5,10,20,50,100,200,500,1000,2000],"labelExpr":"datum.value == 100 || datum.value == 1000 ? '' : format(datum.value, 'd')","title":"concentration (mIU/ml)"}}
},
"layer":[
{"transform":[{"filter":"datum.t > 552.01 || datum.s == 2"}],"mark":{"type":"line","color":"black","strokeWidth":1,"clip":true},"encoding":{"detail":{"field":"s","type":"nominal"}}},
{"mark":{"type":"point","shape":"circle","filled":true,"color":"white","opacity":1,"size":225,"strokeWidth":0}},
{"mark":{"type":"point","shape":"circle","filled":false,"color":"black","opacity":1,"size":82,"strokeWidth":1}}
]
}
]
}
